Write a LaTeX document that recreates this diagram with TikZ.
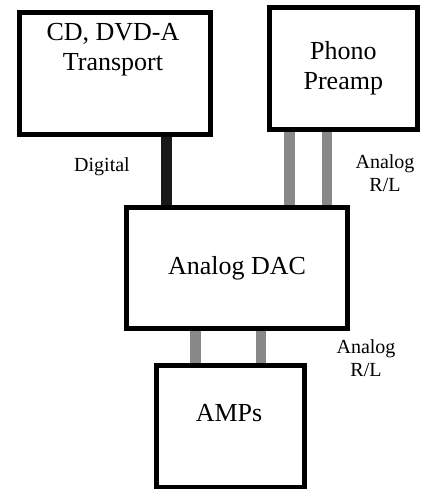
\documentclass[tikz,border=0pt]{standalone}
\usepackage{fontspec}
\setmainfont{Liberation Serif}
\usetikzlibrary{backgrounds}
\tikzset{
  unit/.style={draw,line width=5pt,fill=white,inner sep=0pt,minimum width=#1},
  unit/.default=150pt,
  unittext/.style={align=center,font=\fontsize{26}{30}\selectfont},
  wirelabel/.style={align=center,font=\fontsize{20}{23}\selectfont},
  digitalwire/.style={line width=10.5pt,black!90},
  analogwire/.style={line width=10.5pt,wiregray}
}
\definecolor{wiregray}{RGB}{136,136,136}
\begin{document}
\begin{tikzpicture}[x=1pt,y=-1pt]
        \useasboundingbox (0,0) rectangle (430,489);
        % Geraete
        \node[unit=191pt,minimum height=122pt] (cd) at (115,73.5) {};
        \node[unittext] (cdtext) at (113,50) {CD, DVD-A\\Transport};
        \node[unit=148pt,minimum height=122pt,unittext] (phono) at (343.3,68.3) {Phono\\Preamp};
        \node[unit=221pt,minimum height=121pt,unittext] (dac) at (237,268) {Analog DAC};
        \node[unit=148pt,minimum height=122pt] (amps) at (230.3,426) {};
        \node[unittext] (ampstext) at (229,413) {AMPs};
        % Leitungen
        \begin{pgfonlayer}{background}
            \draw[digitalwire] ([xshift=51.5pt]cd.south) -- ([xshift=51.5pt]cd.south |- dac.north);
            \draw[analogwire] ([xshift=-54pt]phono.south) -- ([xshift=-54pt]phono.south |- dac.north);
            \draw[analogwire] ([xshift=-16.3pt]phono.south) -- ([xshift=-16.3pt]phono.south |- dac.north);
            \draw[analogwire] ([xshift=-41.3pt]dac.south) -- ([xshift=-41.3pt]dac.south |- amps.north);
            \draw[analogwire] ([xshift=24pt]dac.south) -- ([xshift=24pt]dac.south |- amps.north);
        \end{pgfonlayer}
        % Beschriftung
        \node[wirelabel] (diglabel) at (102,167) {Digital};
        \node[wirelabel] (phonolabel) at (385,173) {Analog\\R/L};
        \node[wirelabel] (amplabel) at (366,358) {Analog\\R/L};
    \end{tikzpicture}
\end{document}
